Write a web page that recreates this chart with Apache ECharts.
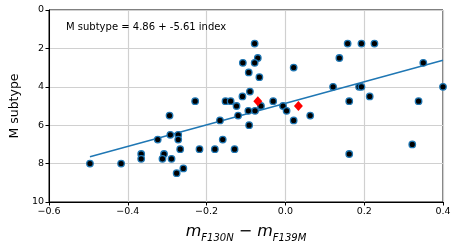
<!DOCTYPE html>
<html>
<head>
<meta charset="utf-8">
<script src="https://cdn.jsdelivr.net/npm/echarts@6/dist/echarts.min.js"></script>
<style>
html,body{margin:0;padding:0;background:#fff;}
#chart{width:457px;height:248px;}
</style>
</head>
<body>
<div id="chart"></div>
<script>
// Colour index (m_F130N - m_F139M) and M subtype for each star
const indexValues = [-0.496,-0.417,-0.366,-0.366,-0.324,-0.308,-0.312,-0.294,-0.292,-0.289,
  -0.272,-0.272,-0.267,-0.276,-0.259,-0.218,-0.229,-0.179,-0.159,-0.166,
  -0.129,-0.120,-0.094,-0.092,-0.124,-0.109,-0.152,-0.139,-0.078,-0.070,
  -0.108,-0.078,-0.093,-0.066,0.021,-0.090,-0.077,-0.062,-0.031,-0.006,
  0.003,0.021,0.063,0.158,0.193,0.226,0.137,0.350,0.121,0.187,
  0.193,0.400,0.162,0.214,0.338,0.322,0.162];
const subtypes = [8.0,8.0,7.5,7.75,6.75,7.5,7.75,5.5,6.5,7.75,
  6.5,6.75,7.25,8.5,8.25,7.25,4.75,7.25,6.75,5.75,
  7.25,5.5,5.25,6.0,5.0,4.5,4.75,4.75,1.75,2.5,
  2.75,2.75,3.25,3.5,3.0,4.25,5.25,5.0,4.75,5.0,
  5.25,5.75,5.5,1.75,1.75,1.75,2.5,2.75,4.0,4.0,
  4.0,4.0,4.75,4.5,4.75,7.0,7.5];
// Highlighted objects (red diamonds)
const highlightIndex = [-0.070, 0.033];
const highlightSubtype = [4.75, 5.0];
// Fit line endpoints
const fitIndex = [-0.496, 0.400];
const fitSubtype = [7.64, 2.62];
const xTicks = [-0.6,-0.4,-0.2,0.0,0.2,0.4];
const yTicks = [0,2,4,6,8,10];
const annotation = 'M subtype = 4.86 + -5.61 index';

const FONT = 'DejaVu Sans';
const chart = echarts.init(document.getElementById('chart'), null, {renderer:'canvas'});

const fmtX = v => {
  const s = Math.abs(v).toFixed(1);
  return v < -1e-9 ? '\u2212' + s : s;
};

chart.setOption({
  animation: false,
  backgroundColor: '#ffffff',
  grid: {left: 41, right: 14, top: 10, bottom: 39, show: true, borderColor: '#000', borderWidth: 1, backgroundColor: 'transparent'},
  title: {
    text: annotation, left: 61, top: 17,
    textStyle: {fontFamily: FONT, fontSize: 10, fontWeight: 'normal', color: '#000'}
  },
  xAxis: {
    type: 'value', min: xTicks[0], max: xTicks[xTicks.length-1], interval: 0.2,
    axisLine: {show: true, onZero: false, lineStyle: {color: '#000', width: 1}},
    axisTick: {show: true, length: 3.5, lineStyle: {color: '#000'}},
    axisLabel: {formatter: fmtX, fontFamily: FONT, fontSize: 9.5, color: '#000', margin: 5},
    splitLine: {show: true, lineStyle: {color: '#d0d0d0', width: 1.2}},
    name: '{m|m}{s|F130N}{m| \u2212 m}{s|F139M}',
    nameLocation: 'middle', nameGap: 20,
    nameTextStyle: {
      rich: {
        m: {fontFamily: FONT, fontStyle: 'italic', fontSize: 16, color: '#000', lineHeight: 18, verticalAlign: 'bottom'},
        s: {fontFamily: FONT, fontStyle: 'italic', fontSize: 10, color: '#000', lineHeight: 18, verticalAlign: 'bottom', padding: [0,0,-3,0]}
      }
    }
  },
  yAxis: {
    type: 'value', min: yTicks[0], max: yTicks[yTicks.length-1], interval: 2, inverse: true,
    axisLine: {show: true, onZero: false, lineStyle: {color: '#000', width: 1}},
    axisTick: {show: true, length: 3.5, lineStyle: {color: '#000'}},
    axisLabel: {fontFamily: FONT, fontSize: 9.5, color: '#000', margin: 5},
    splitLine: {show: true, lineStyle: {color: '#d0d0d0', width: 1.2}},
    name: 'M subtype', nameLocation: 'middle', nameGap: 25, nameRotate: 90,
    nameTextStyle: {fontFamily: FONT, fontSize: 12.5, color: '#000'}
  },
  series: [
    {
      type: 'line', z: 2, symbol: 'none', silent: true,
      data: fitIndex.map((x, i) => [x, fitSubtype[i]]),
      lineStyle: {color: '#1f77b4', width: 1.5}
    },
    {
      type: 'scatter', z: 3, symbol: 'circle', symbolSize: 6.5,
      data: indexValues.map((x, i) => [x, subtypes[i]]),
      itemStyle: {color: '#000', borderColor: '#1f77b4', borderWidth: 1.3, opacity: 1}
    },
    {
      type: 'scatter', z: 4, symbol: 'diamond', symbolSize: [9, 10],
      data: highlightIndex.map((x, i) => [x, highlightSubtype[i]]),
      itemStyle: {color: '#ff0000', opacity: 1}
    }
  ]
});
</script>
</body>
</html>
